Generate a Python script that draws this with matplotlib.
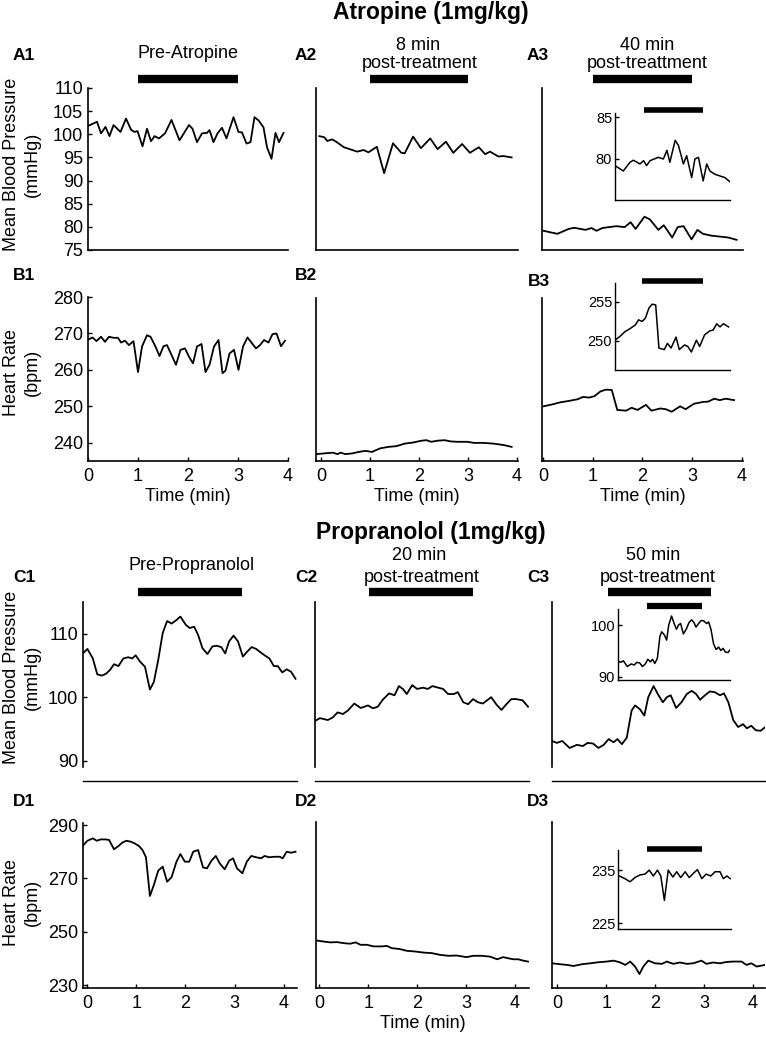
import matplotlib
matplotlib.use('Agg')
import matplotlib.pyplot as plt
from matplotlib import transforms

plt.rcParams['font.family'] = ['Liberation Sans', 'DejaVu Sans']

W, H = 766, 1039

# ---------------- data (time in min) ----------------
# Atropine: mean blood pressure (mmHg)
a1_t = [0, 0.18, 0.26, 0.35, 0.43, 0.51, 0.65, 0.76, 0.86, 0.93, 0.99, 1.09, 1.18, 1.26,
        1.33, 1.42, 1.54, 1.67, 1.83, 2.02, 2.09, 2.18, 2.28, 2.38, 2.43, 2.51, 2.59, 2.68,
        2.77, 2.91, 3.01, 3.08, 3.17, 3.25, 3.33, 3.41, 3.51, 3.58, 3.67, 3.75, 3.82, 3.91]
a1_map = [101.8, 102.7, 100.2, 101.6, 99.6, 102.0, 100.5, 103.4, 101.0, 100.5, 100.7, 97.4,
          101.2, 98.5, 99.6, 99.1, 100.2, 103.1, 98.7, 102.0, 101.2, 98.3, 100.2, 100.3, 100.9,
          98.3, 100.2, 101.4, 99.1, 103.7, 100.5, 100.4, 98.0, 98.3, 103.7, 103.0, 101.5, 97.2,
          94.7, 100.3, 98.3, 100.3]

a2_t = [-0.03, 0.07, 0.13, 0.23, 0.31, 0.47, 0.74, 0.87, 0.97, 1.14, 1.29, 1.47, 1.64, 1.71,
        1.88, 2.04, 2.23, 2.38, 2.55, 2.70, 2.88, 3.04, 3.22, 3.35, 3.45, 3.62, 3.72, 3.89]
a2_map = [99.6, 99.35, 98.55, 98.9, 98.4, 97.2, 96.25, 96.6, 96.1, 97.3, 91.6, 98.05, 96.0,
          95.9, 99.5, 97.0, 99.1, 96.8, 98.4, 96.0, 97.9, 96.0, 97.2, 95.7, 96.25, 95.2, 95.3, 95.0]

a3_t = [0, 0.28, 0.51, 0.62, 0.85, 0.97, 1.07, 1.19, 1.47, 1.64, 1.76, 1.86, 2.04, 2.15, 2.32,
        2.43, 2.60, 2.71, 2.83, 2.99, 3.11, 3.22, 3.39, 3.56, 3.73, 3.90]
a3_map = [79.15, 78.5, 79.55, 79.8, 79.35, 79.75, 79.15, 79.75, 80.15, 79.95, 81.0, 79.55, 82.2,
          81.6, 79.35, 80.35, 77.7, 79.95, 80.15, 77.3, 79.35, 78.5, 78.1, 77.9, 77.7, 77.2]

# Atropine: heart rate (bpm)
b1_t = [0.02, 0.09, 0.17, 0.26, 0.34, 0.42, 0.51, 0.60, 0.66, 0.74, 0.82, 0.91, 1.00, 1.08,
        1.18, 1.25, 1.35, 1.43, 1.51, 1.58, 1.67, 1.76, 1.85, 1.94, 2.02, 2.10, 2.18, 2.27,
        2.35, 2.43, 2.52, 2.61, 2.69, 2.75, 2.83, 2.92, 3.01, 3.10, 3.19, 3.28, 3.36, 3.44,
        3.52, 3.61, 3.69, 3.77, 3.86, 3.94]
b1_hr = [268.4, 268.9, 267.9, 269.1, 267.7, 269.1, 268.8, 268.8, 267.5, 268.0, 266.8, 267.9,
         259.4, 266.4, 269.5, 269.1, 266.4, 263.8, 266.5, 266.8, 264.1, 261.4, 265.5, 265.9,
         263.6, 261.8, 266.4, 267.1, 259.4, 261.4, 266.4, 268.2, 259.1, 259.8, 264.5, 265.5,
         260.0, 266.4, 268.9, 267.3, 265.9, 266.8, 268.2, 267.5, 269.8, 270.0, 266.5, 268.0]

b2_t = [-0.1, 0.07, 0.24, 0.34, 0.40, 0.50, 0.64, 0.77, 0.91, 1.04, 1.21, 1.38, 1.54, 1.71,
        1.88, 2.05, 2.15, 2.25, 2.38, 2.52, 2.65, 2.79, 2.99, 3.12, 3.32, 3.52, 3.73, 3.89]
b2_hr = [236.9, 237.1, 237.3, 236.9, 237.3, 236.9, 237.1, 237.5, 237.8, 237.5, 238.5, 238.9,
         239.1, 239.8, 240.1, 240.6, 240.75, 240.3, 240.6, 240.75, 240.4, 240.3, 240.3, 240.0,
         240.0, 239.8, 239.4, 238.9]

b3_t = [0, 0.17, 0.34, 0.52, 0.69, 0.80, 0.92, 1.03, 1.15, 1.26, 1.38, 1.49, 1.67, 1.78, 1.90,
        2.07, 2.18, 2.36, 2.47, 2.59, 2.76, 2.87, 3.04, 3.22, 3.33, 3.45, 3.56, 3.68, 3.85]
b3_hr = [250.1, 250.6, 251.2, 251.6, 252.05, 252.7, 252.5, 252.9, 254.2, 254.7, 254.6, 249.1,
         248.9, 249.7, 249.1, 250.5, 248.9, 249.5, 249.3, 248.6, 250.1, 249.3, 250.8, 251.3,
         251.4, 252.2, 251.8, 252.2, 251.8]

# Propranolol: mean blood pressure (mmHg)
c1_t = [-0.07, 0.01, 0.12, 0.21, 0.30, 0.39, 0.47, 0.55, 0.64, 0.74, 0.84, 0.92, 0.99, 1.08,
        1.18, 1.28, 1.36, 1.45, 1.54, 1.63, 1.72, 1.81, 1.90, 2.01, 2.09, 2.18, 2.26, 2.35,
        2.45, 2.55, 2.64, 2.73, 2.81, 2.89, 2.98, 3.07, 3.17, 3.26, 3.35, 3.44, 3.54, 3.63,
        3.71, 3.80, 3.88, 3.97, 4.06, 4.15, 4.24]
c1_map = [107.0, 107.6, 106.1, 103.6, 103.4, 103.7, 104.3, 105.2, 104.9, 106.1, 106.3, 106.1,
          106.6, 105.6, 104.8, 101.2, 102.4, 105.9, 110.1, 112.0, 111.6, 112.1, 112.7, 111.4,
          110.9, 111.1, 109.8, 107.7, 106.8, 108.0, 108.1, 107.9, 106.9, 108.8, 109.7, 108.8,
          106.4, 107.2, 107.9, 107.6, 107.0, 106.5, 106.1, 104.9, 104.9, 103.9, 104.4, 104.0, 102.9]

c2_t = [-0.06, 0.03, 0.19, 0.29, 0.39, 0.50, 0.60, 0.73, 0.86, 1.01, 1.11, 1.21, 1.31, 1.44,
        1.55, 1.64, 1.72, 1.80, 1.91, 2.01, 2.13, 2.23, 2.32, 2.44, 2.54, 2.64, 2.76, 2.84,
        2.95, 3.05, 3.15, 3.25, 3.35, 3.52, 3.63, 3.73, 3.83, 3.93, 4.03, 4.16, 4.27]
c2_map = [96.3, 96.7, 96.4, 96.8, 97.6, 97.35, 97.9, 99.0, 98.3, 98.7, 98.25, 98.5, 99.6, 100.6,
          100.3, 101.75, 101.3, 100.5, 101.9, 101.3, 101.5, 101.3, 101.75, 101.5, 101.3, 100.5,
          100.5, 100.8, 99.2, 98.9, 99.7, 99.2, 99.0, 100.0, 98.8, 98.0, 98.9, 99.7, 99.7, 99.5, 98.5]

c3_t = [-0.11, -0.01, 0.10, 0.25, 0.40, 0.52, 0.62, 0.73, 0.84, 0.95, 1.05, 1.15, 1.23, 1.32,
        1.42, 1.52, 1.59, 1.69, 1.78, 1.86, 1.97, 2.07, 2.16, 2.24, 2.32, 2.43, 2.54, 2.65,
        2.75, 2.84, 2.92, 3.02, 3.12, 3.22, 3.33, 3.41, 3.50, 3.60, 3.70, 3.80, 3.88, 3.97,
        4.06, 4.16, 4.24]
c3_map = [93.1, 92.8, 93.1, 92.0, 92.5, 92.3, 92.8, 92.7, 92.0, 92.5, 93.4, 92.9, 93.4, 92.6,
          93.6, 97.9, 98.7, 98.1, 97.1, 100.0, 101.75, 100.3, 99.2, 100.0, 100.3, 98.3, 99.2,
          100.5, 101.0, 100.5, 99.6, 100.3, 100.9, 100.8, 100.3, 100.6, 99.2, 96.4, 95.3, 95.75,
          95.1, 95.5, 94.8, 94.7, 95.2]

# Propranolol: heart rate (bpm)
d1_t = [-0.07, 0.01, 0.12, 0.20, 0.28, 0.37, 0.45, 0.55, 0.64, 0.72, 0.80, 0.89, 0.97, 1.06,
        1.13, 1.20, 1.28, 1.36, 1.45, 1.54, 1.63, 1.72, 1.82, 1.90, 1.99, 2.08, 2.16, 2.26,
        2.36, 2.44, 2.53, 2.62, 2.70, 2.80, 2.89, 2.97, 3.05, 3.16, 3.25, 3.34, 3.44, 3.54,
        3.61, 3.71, 3.81, 3.92, 3.98, 4.06, 4.15, 4.24]
d1_hr = [282.5, 284.1, 285.0, 284.1, 284.6, 284.6, 284.4, 280.9, 282.1, 283.4, 284.1, 283.75,
         283.1, 282.1, 280.6, 277.9, 263.4, 267.5, 272.9, 274.4, 268.75, 270.4, 276.25, 279.1,
         276.25, 276.25, 280.0, 280.6, 274.1, 273.75, 276.6, 278.4, 275.6, 273.4, 276.6, 277.5,
         273.75, 271.9, 276.25, 278.4, 277.9, 277.5, 278.4, 277.9, 278.1, 278.1, 277.5, 280.0,
         279.6, 280.0]

d2_t = [-0.06, 0.09, 0.22, 0.36, 0.50, 0.63, 0.74, 0.84, 0.97, 1.11, 1.28, 1.38, 1.48, 1.65,
        1.79, 1.96, 2.13, 2.30, 2.47, 2.64, 2.81, 3.01, 3.15, 3.32, 3.49, 3.64, 3.76, 3.86,
        3.97, 4.07, 4.17, 4.27]
d2_hr = [246.6, 246.2, 245.9, 246.0, 245.6, 245.4, 245.9, 245.0, 245.0, 244.4, 244.4, 244.6,
         243.75, 243.4, 242.75, 242.5, 242.1, 241.9, 241.25, 240.9, 241.0, 240.4, 240.9, 240.9,
         240.6, 239.6, 240.4, 240.0, 239.6, 239.6, 239.1, 238.75]

d3_t = [-0.11, 0.06, 0.20, 0.33, 0.50, 0.67, 0.84, 1.01, 1.15, 1.29, 1.39, 1.49, 1.59, 1.68,
        1.76, 1.86, 2.00, 2.14, 2.24, 2.37, 2.51, 2.65, 2.78, 2.95, 3.05, 3.19, 3.33, 3.46,
        3.60, 3.77, 3.87, 3.97, 4.08, 4.25]
d3_hr = [238.1, 237.75, 237.5, 237.1, 237.75, 238.1, 238.5, 238.75, 239.1, 238.4, 237.5, 238.75,
         236.9, 234.1, 236.9, 239.1, 238.1, 237.9, 238.75, 237.9, 238.4, 237.9, 238.1, 239.1,
         237.9, 238.4, 238.1, 238.6, 238.75, 238.75, 237.5, 238.1, 236.9, 237.5]

d3_inset_t = [-0.06, 0.16, 0.36, 0.55, 0.75, 0.94, 1.11, 1.27, 1.43, 1.56, 1.70, 1.85, 2.03,
              2.18, 2.34, 2.51, 2.67, 2.83, 2.99, 3.16, 3.33, 3.51, 3.68, 3.87, 4.00, 4.14, 4.27]
d3_inset_hr = [233.9, 233.4, 232.8, 233.6, 234.1, 234.25, 235.0, 233.9, 235.0, 233.9, 229.3,
               235.0, 233.7, 234.7, 233.6, 234.7, 233.6, 234.4, 235.1, 233.4, 234.25, 233.9,
               234.7, 234.7, 233.4, 233.9, 233.4]

# analysis windows (min)
atr_window = [1.0, 3.0]
b3_window = [0.9, 3.0]
pro_window = [1.03, 3.15]

# ---------------- figure ----------------
fig = plt.figure(figsize=(W / 100, H / 100), dpi=100)


def px_axes(x0, y0, x1, y1):
    return fig.add_axes([x0 / W, 1 - y1 / H, (x1 - x0) / W, (y1 - y0) / H])


def style(ax, xlim, ylim, yticks=(), xticks=(), size=13, lw=1.2):
    ax.set_xlim(xlim)
    ax.set_ylim(ylim)
    ax.spines['top'].set_visible(False)
    ax.spines['right'].set_visible(False)
    ax.spines['left'].set_linewidth(lw)
    ax.spines['bottom'].set_linewidth(lw)
    ax.set_yticks(list(yticks))
    ax.set_xticks(list(xticks))
    ax.tick_params(direction='in', length=3, width=1, labelsize=size, pad=3.5)
    ax.tick_params(axis='x', pad=5)
    ax.patch.set_alpha(0)


def bar(ax, window, ypx, lw=6):
    tr = transforms.blended_transform_factory(ax.transData, fig.transFigure)
    ax.plot(window, [1 - ypx / H] * 2, color='black', lw=lw, solid_capstyle='butt',
            transform=tr, clip_on=False)


def ftext(x, y, s, **kw):
    fig.text(x / W, 1 - y / H, s, ha='center', va='center', **kw)


trace = dict(color='black', lw=1.3)
inset_trace = dict(color='black', lw=1.1)

# titles
ftext(431, 13, 'Atropine (1mg/kg)', fontsize=16.5, fontweight='bold')
ftext(431, 533, 'Propranolol (1mg/kg)', fontsize=16.5, fontweight='bold')

# panel letters
for lab, x, y in [('A1', 13, 55), ('A2', 295, 55), ('A3', 527, 55),
                  ('B1', 13, 275), ('B2', 295, 275), ('B3', 528, 282),
                  ('C1', 13, 578), ('C2', 295, 578), ('C3', 527, 578),
                  ('D1', 13, 802), ('D2', 295, 802), ('D3', 527, 802)]:
    fig.text(x / W, 1 - y / H, lab, ha='left', va='center', fontsize=12.5, fontweight='bold')

# condition labels
ftext(188, 53, 'Pre-Atropine', fontsize=13)
ftext(418, 45, '8 min', fontsize=13)
ftext(420, 63, 'post-treatment', fontsize=13)
ftext(647, 45, '40 min', fontsize=13)
ftext(647, 63, 'post-treattment', fontsize=13)
ftext(192, 565, 'Pre-Propranolol', fontsize=13)
ftext(419, 555, '20 min', fontsize=13)
ftext(422, 577, 'post-treatment', fontsize=13)
ftext(653, 555, '50 min', fontsize=13)
ftext(658, 577, 'post-treatment', fontsize=13)

# y labels
ftext(22, 164, 'Mean Blood Pressure\n(mmHg)', fontsize=13, rotation=90, linespacing=1.35)
ftext(22, 372, 'Heart Rate\n(bpm)', fontsize=13, rotation=90, linespacing=1.35)
ftext(22, 677, 'Mean Blood Pressure\n(mmHg)', fontsize=13, rotation=90, linespacing=1.35)
ftext(22, 902, 'Heart Rate\n(bpm)', fontsize=13, rotation=90, linespacing=1.35)

ticks_t = [0, 1, 2, 3, 4]

# ---- Row A ----
ax = px_axes(88, 88, 288, 250)
style(ax, (0, 4), (75, 110), yticks=range(75, 111, 5))
ax.plot(a1_t, a1_map, **trace)
bar(ax, atr_window, 78.5)

ax = px_axes(316, 88, 518, 250)
style(ax, (-0.1, 4.02), (75, 110))
ax.plot(a2_t, a2_map, **trace)
bar(ax, atr_window, 79)

ax = px_axes(542, 88, 743, 250)
style(ax, (-0.03, 4.03), (75, 110))
ax.plot(a3_t, a3_map, **trace)
bar(ax, atr_window, 79)

ax = px_axes(615, 113, 730, 200)
style(ax, (0, 3.9), (75, 85.5), yticks=[80, 85], size=10.5, lw=1)
ax.tick_params(pad=2)
ax.plot(a3_t, a3_map, **inset_trace)
bar(ax, atr_window, 110, lw=4)

# ---- Row B ----
ax = px_axes(88, 297, 288, 461)
style(ax, (0, 4), (235, 280), yticks=range(240, 281, 10), xticks=ticks_t)
ax.plot(b1_t, b1_hr, **trace)
ax.set_xlabel('Time (min)', fontsize=13, labelpad=2)

ax = px_axes(316, 298, 518, 461)
style(ax, (-0.1, 4.02), (235, 280), xticks=ticks_t)
ax.plot(b2_t, b2_hr, **trace)
ax.set_xlabel('Time (min)', fontsize=13, labelpad=2)

ax = px_axes(542, 298, 743, 461)
style(ax, (-0.03, 4.03), (235, 280), xticks=ticks_t)
ax.plot(b3_t, b3_hr, **trace)
ax.set_xlabel('Time (min)', fontsize=13, labelpad=2)

ax = px_axes(615, 283, 730, 370)
style(ax, (0, 3.9), (246.3, 257.4), yticks=[250, 255], size=10.5, lw=1)
ax.tick_params(pad=2)
ax.plot(b3_t, b3_hr, **inset_trace)
bar(ax, b3_window, 281, lw=4)

# ---- Row C (detached time axis) ----
def c_axes(x0, x1, xlim, t, v, yticks=()):
    ax = px_axes(x0, 602, x1, 767)
    style(ax, xlim, (89, 115), yticks=yticks)
    ax.spines['bottom'].set_position(('outward', 10))
    ax.spines['bottom'].set_linewidth(1)
    ax.plot(t, v, **trace)
    bar(ax, pro_window, 592)
    return ax


c_axes(83, 297, (-0.08, 4.27), c1_t, c1_map, yticks=[90, 100, 110])
c_axes(315, 529, (-0.07, 4.29), c2_t, c2_map)
c_axes(552, 765, (-0.11, 4.25), c3_t, c3_map)

ax = px_axes(618, 609, 730, 680)
style(ax, (-0.11, 4.24), (89.4, 103.1), yticks=[90, 100], size=10.5, lw=1)
ax.tick_params(pad=2)
ax.plot(c3_t, c3_map, **inset_trace)
bar(ax, pro_window, 606, lw=4.5)

# ---- Row D ----
ax = px_axes(83, 823, 297, 988)
style(ax, (-0.08, 4.27), (228.9, 290.75), yticks=[230, 250, 270, 290], xticks=ticks_t)
ax.plot(d1_t, d1_hr, **trace)

ax = px_axes(316, 822, 529, 988)
style(ax, (-0.07, 4.29), (228.9, 290.75), xticks=ticks_t)
ax.plot(d2_t, d2_hr, **trace)
ax.set_xlabel('Time (min)', fontsize=13, labelpad=2)

ax = px_axes(552, 822, 765, 988)
style(ax, (-0.11, 4.25), (228.9, 290.75), xticks=ticks_t)
ax.plot(d3_t, d3_hr, **trace)

ax = px_axes(618, 850, 731, 929)
style(ax, (-0.11, 4.3), (223.9, 238.8), yticks=[225, 235], size=10.5, lw=1)
ax.tick_params(pad=2)
ax.plot(d3_inset_t, d3_inset_hr, **inset_trace)
bar(ax, pro_window, 849, lw=4)

fig.savefig('out.png', dpi=100)
